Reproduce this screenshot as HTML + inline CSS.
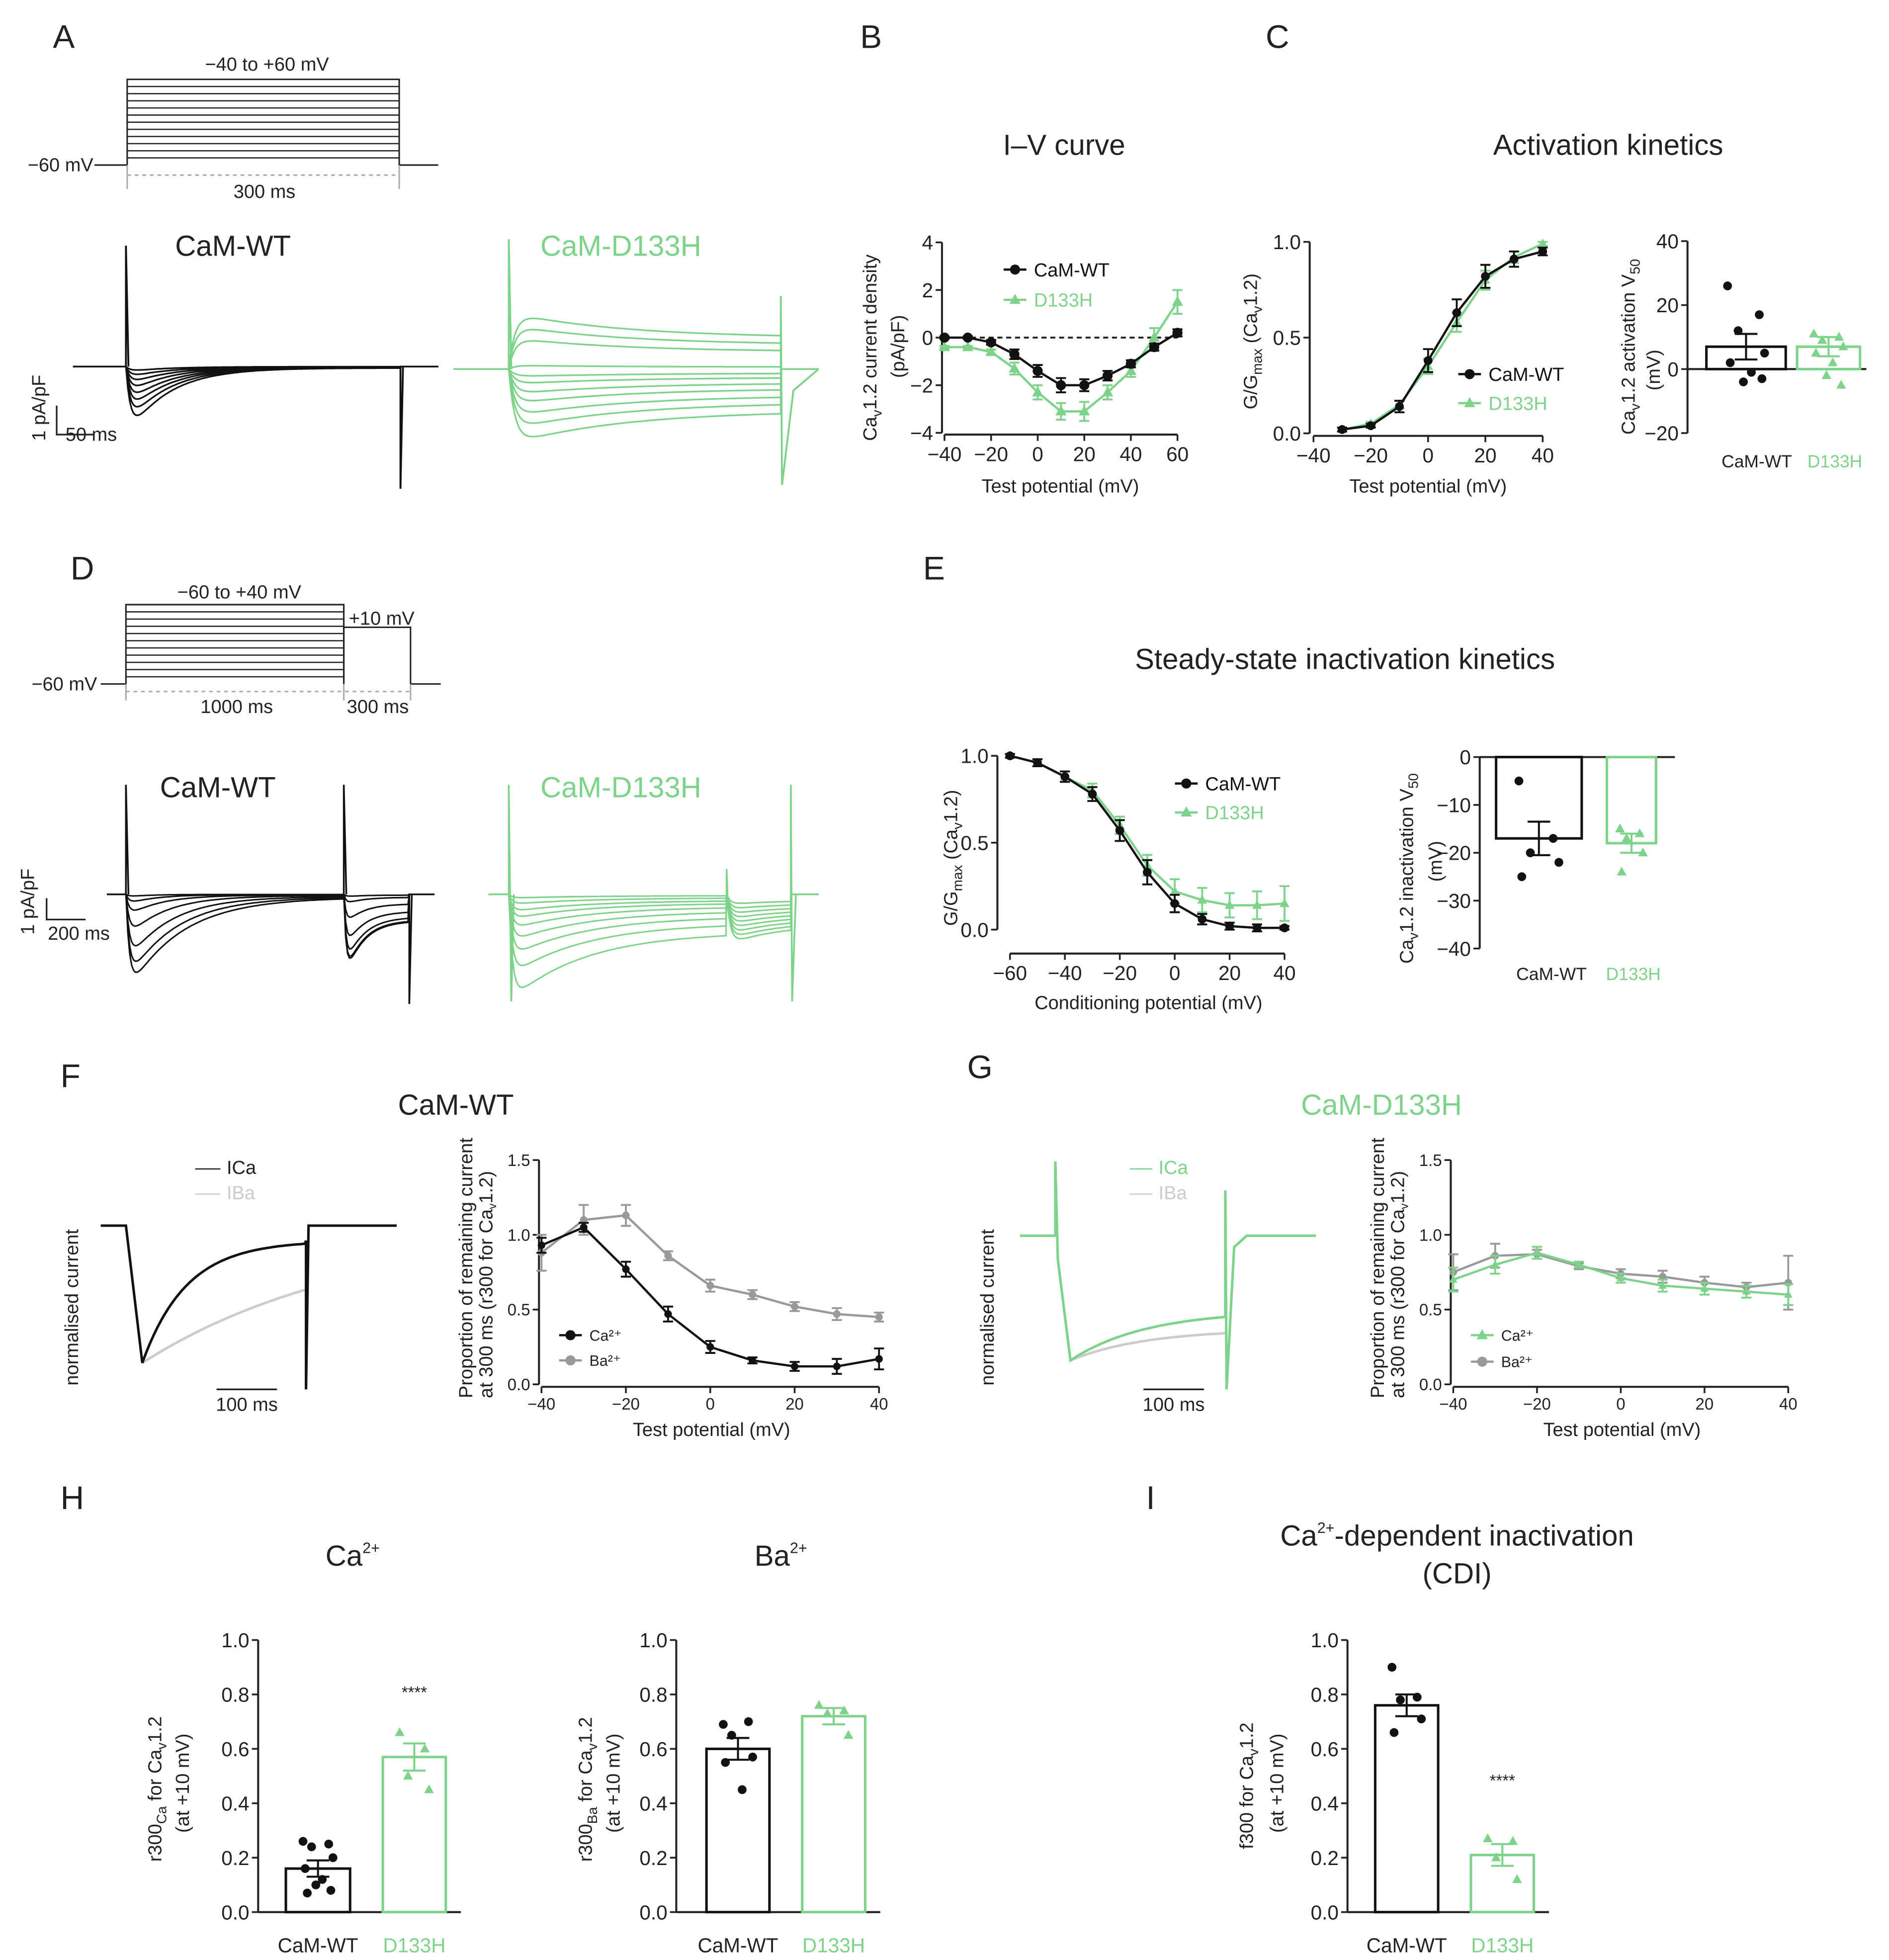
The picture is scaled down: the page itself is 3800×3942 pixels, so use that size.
<!DOCTYPE html>
<html><head><meta charset="utf-8">
<style>
html,body{margin:0;padding:0;background:#fff;}
svg{display:block;font-family:"Liberation Sans",Arial,sans-serif;}
.t{font-size:15px;fill:#222;}
.ti{font-size:23px;fill:#222;}
.pl{font-size:26px;fill:#222;}
.g{fill:#7ed38a;}
</style></head>
<body>
<svg id="fig" width="3800" height="3942" viewBox="0 0 1500 1556" xmlns="http://www.w3.org/2000/svg">
<rect width="1500" height="1556" fill="#fff"/>
<g>
<text class="pl" x="42" y="38">A</text><text class="pl" x="683" y="38">B</text><text class="pl" x="1005" y="38">C</text>
<text class="pl" x="56" y="460">D</text><text class="pl" x="733" y="460">E</text>
<text class="pl" x="48" y="863">F</text><text class="pl" x="768" y="856">G</text>
<text class="pl" x="48" y="1198">H</text><text class="pl" x="910" y="1198">I</text>
</g>
<g text-anchor="middle">
<text class="ti" x="845" y="123">I–V curve</text>
<text class="ti" x="1277" y="123">Activation kinetics</text>
<text class="ti" x="1068" y="531">Steady-state inactivation kinetics</text>
<text class="ti" x="362" y="885" font-size="20">CaM-WT</text>
<text class="ti g" x="1097" y="885" font-size="20">CaM-D133H</text>
<text class="ti" x="280" y="1243">Ca<tspan font-size="12" dy="-10">2+</tspan></text>
<text class="ti" x="620" y="1243">Ba<tspan font-size="12" dy="-10">2+</tspan></text>
<text class="ti" x="1157" y="1227">Ca<tspan font-size="12" dy="-10">2+</tspan><tspan dy="10">-dependent inactivation</tspan></text>
<text class="ti" x="1157" y="1257">(CDI)</text>
<text class="ti" x="185" y="203" font-size="19">CaM-WT</text>
<text class="ti g" x="493" y="203" font-size="19">CaM-D133H</text>
<text class="ti" x="173" y="633" font-size="19">CaM-WT</text>
<text class="ti g" x="493" y="633" font-size="19">CaM-D133H</text>
</g>
<g fill="none" stroke="#222" stroke-width="1.2">
<polyline points="75,131 101,131 101,63 317,63 317,131 348,131"/>
<line x1="101" y1="139" x2="317" y2="139" stroke="#aaa" stroke-dasharray="3,3"/>
<line x1="101" y1="131" x2="101" y2="150" stroke="#aaa"/><line x1="317" y1="131" x2="317" y2="150" stroke="#aaa"/>
</g>
<g id="protA" stroke="#222" stroke-width="1"></g>
<text class="t" x="212" y="56" text-anchor="middle">−40 to +60 mV</text>
<text class="t" x="22" y="136">−60 mV</text>
<text class="t" x="210" y="157" text-anchor="middle">300 ms</text>

<g fill="none" stroke="#222" stroke-width="1.2">
<polyline points="80,543 100,543 100,480 273,480 273,543"/>
<polyline points="273,498 326,498 326,543 350,543"/>
<line x1="273" y1="498" x2="273" y2="543"/>
<line x1="100" y1="549" x2="326" y2="549" stroke="#aaa" stroke-dasharray="3,3"/>
<line x1="100" y1="543" x2="100" y2="556" stroke="#aaa"/><line x1="273" y1="543" x2="273" y2="556" stroke="#aaa"/><line x1="326" y1="543" x2="326" y2="556" stroke="#aaa"/>
</g>
<g id="protD" stroke="#222" stroke-width="1"></g>
<text class="t" x="190" y="475" text-anchor="middle">−60 to +40 mV</text>
<text class="t" x="277" y="496">+10 mV</text>
<text class="t" x="25" y="548">−60 mV</text>
<text class="t" x="188" y="566" text-anchor="middle">1000 ms</text>
<text class="t" x="300" y="566" text-anchor="middle">300 ms</text>

<g fill="none" stroke="#222" stroke-width="1.3">
<polyline points="45,322 45,345 75,345"/>
<polyline points="37,713 37,730 68,730"/>
<line x1="172" y1="1103" x2="220" y2="1103"/>
<line x1="908" y1="1103" x2="956" y2="1103"/>
</g>
<g>
<text class="t" font-size="13" transform="translate(36,350) rotate(-90)">1 pA/pF</text>
<text class="t" font-size="14" x="52" y="350">50 ms</text>
<text class="t" font-size="13" transform="translate(27,742) rotate(-90)">1 pA/pF</text>
<text class="t" font-size="14" x="38" y="746">200 ms</text>
<text class="t" font-size="14" x="196" y="1120" text-anchor="middle">100 ms</text>
<text class="t" font-size="14" x="932" y="1120" text-anchor="middle">100 ms</text>
<text class="t" font-size="18" transform="translate(62,1100) rotate(-90)">normalised current</text>
<text class="t" font-size="18" transform="translate(789,1100) rotate(-90)">normalised current</text>
</g>
<g>
<line x1="155" y1="928" x2="175" y2="928" stroke="#222"/><text class="t" font-size="11" x="180" y="932">ICa</text>
<line x1="155" y1="948" x2="175" y2="948" stroke="#ccc"/><text class="t" font-size="11" x="180" y="952" style="fill:#ccc">IBa</text>
</g>
<g>
<line x1="897" y1="928" x2="915" y2="928" stroke="#7ed38a"/><text class="t g" font-size="11" x="920" y="932">ICa</text>
<line x1="897" y1="948" x2="915" y2="948" stroke="#ccc"/><text class="t" font-size="11" x="920" y="952" style="fill:#ccc">IBa</text>
</g>
<g font-size="16">
<text class="t" font-size="16" transform="translate(696,350) rotate(-90)">Ca<tspan font-size="11" dy="4">v</tspan><tspan dy="-4">1.2 current density</tspan></text>
<text class="t" font-size="16" transform="translate(718,300) rotate(-90)">(pA/pF)</text>
<text class="t" font-size="16" x="842" y="391" text-anchor="middle">Test potential (mV)</text>
<text class="t" font-size="16" transform="translate(998,325) rotate(-90)">G/G<tspan font-size="11" dy="4">max</tspan><tspan dy="-4"> (Ca</tspan><tspan font-size="11" dy="4">v</tspan><tspan dy="-4">1.2)</tspan></text>
<text class="t" font-size="16" x="1134" y="391" text-anchor="middle">Test potential (mV)</text>
<text class="t" font-size="16" transform="translate(1298,345) rotate(-90)">Ca<tspan font-size="11" dy="4">v</tspan><tspan dy="-4">1.2 activation V</tspan><tspan font-size="11" dy="4">50</tspan></text>
<text class="t" font-size="16" transform="translate(1318,310) rotate(-90)">(mV)</text>
<text class="t" font-size="16" transform="translate(760,735) rotate(-90)">G/G<tspan font-size="11" dy="4">max</tspan><tspan dy="-4"> (Ca</tspan><tspan font-size="11" dy="4">v</tspan><tspan dy="-4">1.2)</tspan></text>
<text class="t" font-size="16" x="912" y="801" text-anchor="middle">Conditioning potential (mV)</text>
<text class="t" font-size="16" transform="translate(1122,765) rotate(-90)">Ca<tspan font-size="11" dy="4">v</tspan><tspan dy="-4">1.2 inactivation V</tspan><tspan font-size="11" dy="4">50</tspan></text>
<text class="t" font-size="16" transform="translate(1145,700) rotate(-90)">(mV)</text>
<text class="t" font-size="12" transform="translate(375,1110) rotate(-90)">Proportion of remaining current</text>
<text class="t" font-size="12" transform="translate(391,1110) rotate(-90)">at 300 ms (r300 for Ca<tspan font-size="9" dy="3">v</tspan><tspan dy="-3">1.2)</tspan></text>
<text class="t" font-size="13" x="565" y="1140" text-anchor="middle">Test potential (mV)</text>
<text class="t" font-size="12" transform="translate(1099,1110) rotate(-90)">Proportion of remaining current</text>
<text class="t" font-size="12" transform="translate(1115,1110) rotate(-90)">at 300 ms (r300 for Ca<tspan font-size="9" dy="3">v</tspan><tspan dy="-3">1.2)</tspan></text>
<text class="t" font-size="13" x="1288" y="1140" text-anchor="middle">Test potential (mV)</text>
<text class="t" font-size="16" transform="translate(128,1478) rotate(-90)">r300<tspan font-size="11" dy="4">Ca</tspan><tspan dy="-4"> for Ca</tspan><tspan font-size="11" dy="4">v</tspan><tspan dy="-4">1.2</tspan></text>
<text class="t" font-size="16" transform="translate(150,1455) rotate(-90)">(at +10 mV)</text>
<text class="t" font-size="16" transform="translate(470,1478) rotate(-90)">r300<tspan font-size="11" dy="4">Ba</tspan><tspan dy="-4"> for Ca</tspan><tspan font-size="11" dy="4">v</tspan><tspan dy="-4">1.2</tspan></text>
<text class="t" font-size="16" transform="translate(492,1455) rotate(-90)">(at +10 mV)</text>
<text class="t" font-size="16" transform="translate(995,1468) rotate(-90)">f300 for Ca<tspan font-size="11" dy="4">v</tspan><tspan dy="-4">1.2</tspan></text>
<text class="t" font-size="16" transform="translate(1019,1455) rotate(-90)">(at +10 mV)</text>
</g>
<g id="plots"></g>
</svg>
<script>
const ivV = [-40,-30,-20,-10,0,10,20,30,40,50,60];
const ivWT = [0,0,-0.2,-0.7,-1.4,-2.0,-2.0,-1.6,-1.1,-0.4,0.2];
const ivWTerr = [0.05,0.05,0.1,0.2,0.25,0.3,0.25,0.2,0.15,0.15,0.15];
const ivMut = [-0.4,-0.4,-0.6,-1.3,-2.3,-3.1,-3.1,-2.3,-1.4,0,1.5];
const ivMuterr = [0.05,0.05,0.1,0.25,0.3,0.35,0.4,0.3,0.25,0.4,0.5];
const actV = [-30,-20,-10,0,10,20,30,40];
const actWT = [0.02,0.04,0.14,0.38,0.63,0.82,0.91,0.95];
const actWTerr = [0.01,0.01,0.03,0.06,0.07,0.06,0.04,0.02];
const actMut = [0.02,0.05,0.15,0.35,0.58,0.80,0.92,0.99];
const actMuterr = [0.01,0.01,0.02,0.04,0.05,0.05,0.03,0.01];
const actV50WT = [26,17,12,5,2,-1,-4,-3];
const actV50Mut = [11,10,9,7,5,2,-2,-5];
const actV50mean = [7,7];
const actV50err = [4,3];
const inaV = [-60,-50,-40,-30,-20,-10,0,10,20,30,40];
const inaWT = [1.0,0.96,0.88,0.78,0.57,0.33,0.15,0.06,0.02,0.01,0.01];
const inaWTerr = [0.01,0.02,0.03,0.04,0.06,0.07,0.05,0.03,0.02,0.02,0.01];
const inaMut = [1.0,0.96,0.88,0.8,0.6,0.37,0.22,0.17,0.14,0.14,0.15];
const inaMuterr = [0.01,0.02,0.03,0.04,0.05,0.06,0.07,0.07,0.07,0.08,0.1];
const inaV50WT = [-5,-17,-20,-22,-25];
const inaV50Mut = [-15,-16,-17,-20,-24];
const inaV50mean = [-17,-18];
const inaV50err = [3.5,2];
const rV = [-40,-30,-20,-10,0,10,20,30,40];
const rWTca = [0.93,1.05,0.77,0.47,0.25,0.16,0.12,0.12,0.17];
const rWTcaErr = [0.05,0.03,0.05,0.05,0.04,0.02,0.03,0.05,0.07];
const rWTba = [0.88,1.10,1.13,0.86,0.66,0.60,0.52,0.47,0.45];
const rWTbaErr = [0.12,0.1,0.07,0.03,0.04,0.03,0.03,0.04,0.03];
const rMutCa = [0.70,0.80,0.88,0.80,0.71,0.66,0.64,0.62,0.60];
const rMutCaErr = [0.08,0.06,0.04,0.02,0.03,0.04,0.04,0.04,0.07];
const rMutBa = [0.75,0.86,0.87,0.79,0.74,0.72,0.68,0.65,0.68];
const rMutBaErr = [0.12,0.08,0.03,0.02,0.03,0.04,0.04,0.03,0.18];
const hCaWT = [0.26,0.25,0.24,0.2,0.16,0.12,0.1,0.08,0.07];
const hCaMut = [0.66,0.6,0.5,0.45];
const hCaMean = [0.16,0.57];
const hCaErr = [0.03,0.05];
const hBaWT = [0.69,0.70,0.65,0.57,0.55,0.45];
const hBaMut = [0.76,0.74,0.73,0.65];
const hBaMean = [0.60,0.72];
const hBaErr = [0.04,0.03];
const cdiWT = [0.90,0.79,0.78,0.71,0.66];
const cdiMut = [0.27,0.26,0.20,0.12];
const cdiMean = [0.76,0.21];
const cdiErr = [0.04,0.04];
const trAwt = [4,9,15,22,30,38,47,57];
const trAmut = [-45,-35,-25,-3,6,12,20,28,38,48,60];
const trDwt1 = [2,8,18,35,55,70,80];
const trDwt2 = [70,68,60,45,25,8,2];
const trDmut1 = [3,8,14,20,28,38,50,65,85];
const trDmut2 = [40,36,32,28,24,20,16,12,8];

const NS='http://www.w3.org/2000/svg';
const root=document.getElementById('plots');
const GREEN='#7ed38a';
function el(tag,attrs,name,parent){
  const e=document.createElementNS(NS,tag);
  for(const k in attrs) e.setAttribute(k,attrs[k]);
  
  
  (parent||root).appendChild(e);
  return e;
}
function txt(x,y,s,size,anchor,name,fill){
  const t=el('text',{x:x,y:y,'font-size':size,'text-anchor':anchor,fill:fill||'#222'},name);
  t.textContent=s; return t;
}
function xAxis(sx,ticks,y,size,name){
  el('line',{x1:sx(ticks[0]),x2:sx(ticks[ticks.length-1]),y1:y,y2:y,stroke:'#222','stroke-width':1.6},name+'-line');
  ticks.forEach(v=>{
    el('line',{x1:sx(v),x2:sx(v),y1:y,y2:y+5,stroke:'#222','stroke-width':1.4},name+'-tick');
    txt(sx(v),y+5+size,(v<0?'−'+(-v):''+v),size,'middle',name+'-label');
  });
}
function yAxis(sy,ticks,x,size,name,fmt){
  el('line',{x1:x,x2:x,y1:sy(ticks[0]),y2:sy(ticks[ticks.length-1]),stroke:'#222','stroke-width':1.6},name+'-line');
  ticks.forEach(v=>{
    el('line',{x1:x-5,x2:x,y1:sy(v),y2:sy(v),stroke:'#222','stroke-width':1.4},name+'-tick');
    const s=fmt?fmt(v):(v<0?'−'+(-v):''+v);
    txt(x-7,sy(v)+size*0.36,s,size,'end',name+'-label');
  });
}
function marker(x,y,shape,color,r,name){
  if(shape==='c') el('circle',{cx:x,cy:y,r:r,fill:color},name);
  else el('path',{d:`M${x},${y-r*1.2}L${x+r*1.1},${y+r*0.8}L${x-r*1.1},${y+r*0.8}Z`,fill:color},name);
}
function series(sx,sy,xs,ys,es,color,shape,r,name){
  el('polyline',{points:xs.map((v,i)=>sx(v)+','+sy(ys[i])).join(' '),fill:'none',stroke:color,'stroke-width':1.8},name+'-line');
  xs.forEach((v,i)=>{
    const x=sx(v),y1=sy(ys[i]-es[i]),y2=sy(ys[i]+es[i]);
    el('path',{d:`M${x},${y1}V${y2}M${x-4},${y1}H${x+4}M${x-4},${y2}H${x+4}`,stroke:color,'stroke-width':1.5,fill:'none'},name+'-errorbar');
    marker(x,sy(ys[i]),shape,color,r,name+'-point');
  });
}
const jit=[-14,10,-6,14,-12,4,-2,12,-10];
function bar(x0,x1,mean,err,pts,sy,base,color,shape,name){
  const yb=sy(base),ym=sy(mean);
  el('rect',{x:x0,y:Math.min(yb,ym),width:x1-x0,height:Math.abs(yb-ym),fill:'none',stroke:color,'stroke-width':2},name+'-bar');
  const cx=(x0+x1)/2, ye1=sy(mean+err), ye2=sy(mean-err);
  el('path',{d:`M${cx},${ye1}V${ye2}M${cx-9},${ye1}H${cx+9}M${cx-9},${ye2}H${cx+9}`,stroke:color,'stroke-width':1.6,fill:'none'},name+'-errorbar');
  pts.forEach((v,i)=>marker(cx+jit[i%jit.length]*(x1-x0)/60,sy(v),shape,color,3.5,name+'-dot'));
}
function legend(x,y,label,color,shape,size,name,tcolor){
  el('line',{x1:x,x2:x+18,y1:y,y2:y,stroke:color,'stroke-width':1.8},name+'-line');
  marker(x+9,y,shape,color,4,name+'-marker');
  txt(x+24,y+size*0.36,label,size,'start',name+'-label',tcolor||color);
}
const sxB=v=>750+(v+40)*1.85, syB=v=>268-v*18.9;
yAxis(syB,[-4,-2,0,2,4],748,16,'iv-y-axis');
xAxis(sxB,[-40,-20,0,20,40,60],345,16,'iv-x-axis');
el('line',{x1:750,x2:935,y1:syB(0),y2:syB(0),stroke:'#222','stroke-dasharray':'4,3','stroke-width':1.5},'iv-zero-line');
series(sxB,syB,ivV,ivMut,ivMuterr,GREEN,'t',4,'iv-d133h');
series(sxB,syB,ivV,ivWT,ivWTerr,'#111','c',4,'iv-wt');
legend(797,214,'CaM-WT','#111','c',15,'iv-legend-wt');
legend(797,238,'D133H',GREEN,'t',15,'iv-legend-d133h');
const sxC=v=>1043+(v+40)*2.275, syC=v=>344-v*152;
yAxis(syC,[0,0.5,1.0],1040,16,'act-y-axis',v=>v.toFixed(1));
xAxis(sxC,[-40,-20,0,20,40],346,16,'act-x-axis');
series(sxC,syC,actV,actMut,actMuterr,GREEN,'t',3.5,'act-d133h');
series(sxC,syC,actV,actWT,actWTerr,'#111','c',3.5,'act-wt');
legend(1158,297,'CaM-WT','#111','c',15,'act-legend-wt');
legend(1158,320,'D133H',GREEN,'t',15,'act-legend-d133h');
const syCb=v=>293-v*2.54;
yAxis(syCb,[-20,0,20,40],1340,16,'actv50-y-axis');
el('line',{x1:1340,x2:1482,y1:syCb(0),y2:syCb(0),stroke:'#222','stroke-width':1.6},'actv50-baseline');
bar(1355,1418,actV50mean[0],actV50err[0],actV50WT,syCb,0,'#111','c','actv50-wt');
bar(1427,1477,actV50mean[1],actV50err[1],actV50Mut,syCb,0,GREEN,'t','actv50-d133h');
txt(1395,371,'CaM-WT',14,'middle','actv50-label-wt');
txt(1457,371,'D133H',14,'middle','actv50-label-d133h',GREEN);
const sxE=v=>802+(v+60)*2.18, syE=v=>738-v*138;
yAxis(syE,[0,0.5,1.0],792,16,'ina-y-axis',v=>v.toFixed(1));
xAxis(sxE,[-60,-40,-20,0,20,40],757,16,'ina-x-axis');
series(sxE,syE,inaV,inaMut,inaMuterr,GREEN,'t',3.5,'ina-d133h');
series(sxE,syE,inaV,inaWT,inaWTerr,'#111','c',3.5,'ina-wt');
legend(933,622,'CaM-WT','#111','c',15,'ina-legend-wt');
legend(933,645,'D133H',GREEN,'t',15,'ina-legend-d133h');
const syEb=v=>601-v*3.8;
yAxis(syEb,[-40,-30,-20,-10,0],1175,16,'inav50-y-axis');
el('line',{x1:1175,x2:1330,y1:601,y2:601,stroke:'#222','stroke-width':1.6},'inav50-baseline');
bar(1188,1256,inaV50mean[0],inaV50err[0],inaV50WT,syEb,0,'#111','c','inav50-wt');
bar(1276,1315,inaV50mean[1],inaV50err[1],inaV50Mut,syEb,0,GREEN,'t','inav50-d133h');
txt(1232,778,'CaM-WT',14,'middle','inav50-label-wt');
txt(1297,778,'D133H',14,'middle','inav50-label-d133h',GREEN);
const syF=v=>1099-v*118.7;
const sxF=v=>430+(v+40)*3.35, sxG=v=>1154+(v+40)*3.325;
yAxis(syF,[0,0.5,1.0,1.5],428,13,'rf-y-axis',v=>v.toFixed(1));
xAxis(sxF,[-40,-20,0,20,40],1101,13,'rf-x-axis');
series(sxF,syF,rV,rWTba,rWTbaErr,'#999','c',3,'rf-ba');
series(sxF,syF,rV,rWTca,rWTcaErr,'#111','c',3,'rf-ca');
legend(444,1060,'Ca²⁺','#111','c',12,'rf-legend-ca','#222');
legend(444,1080,'Ba²⁺','#999','c',12,'rf-legend-ba','#222');
yAxis(syF,[0,0.5,1.0,1.5],1152,13,'rg-y-axis',v=>v.toFixed(1));
xAxis(sxG,[-40,-20,0,20,40],1101,13,'rg-x-axis');
series(sxG,syF,rV,rMutBa,rMutBaErr,'#999','c',3,'rg-ba');
series(sxG,syF,rV,rMutCa,rMutCaErr,GREEN,'t',3,'rg-ca');
legend(1168,1060,'Ca²⁺',GREEN,'t',12,'rg-legend-ca','#222');
legend(1168,1081,'Ba²⁺','#999','c',12,'rg-legend-ba','#222');
const syH=v=>1518-v*216;
const tk=[0,0.2,0.4,0.6,0.8,1.0];
function barPanel(ax,xs,mean,err,wt,mut,name){
  yAxis(syH,tk,ax,16,name+'-y-axis',v=>v.toFixed(1));
  el('line',{x1:ax,x2:xs[3]+12,y1:1518,y2:1518,stroke:'#222','stroke-width':1.6},name+'-baseline');
  bar(xs[0],xs[1],mean[0],err[0],wt,syH,0,'#111','c',name+'-wt');
  bar(xs[2],xs[3],mean[1],err[1],mut,syH,0,GREEN,'t',name+'-d133h');
  txt((xs[0]+xs[1])/2,1550,'CaM-WT',16,'middle',name+'-label-wt');
  txt((xs[2]+xs[3])/2,1550,'D133H',16,'middle',name+'-label-d133h',GREEN);
}
barPanel(205,[227,278,304,354],hCaMean,hCaErr,hCaWT,hCaMut,'h-ca');
txt(329,1348,'****',13,'middle','h-ca-significance');
barPanel(537,[561,611,637,687],hBaMean,hBaErr,hBaWT,hBaMut,'h-ba');
barPanel(1070,[1092,1142,1168,1218],cdiMean,cdiErr,cdiWT,cdiMut,'i-cdi');
txt(1193,1418,'****',13,'middle','i-significance');
const pA=document.getElementById('protA');
for(let i=1;i<12;i++) el('line',{x1:101,x2:317,y1:63+i*(68/12),y2:63+i*(68/12)},'protocol-a-step',pA);
const pD=document.getElementById('protD');
for(let i=1;i<11;i++) el('line',{x1:100,x2:273,y1:480+i*(63/11),y2:480+i*(63/11)},'protocol-d-step',pD);
function path(pts,color,w,name){ el('path',{d:'M'+pts.map(p=>p[0].toFixed(1)+','+p[1].toFixed(1)).join('L'),fill:'none',stroke:color,'stroke-width':w||1.3},name); }
function pulse(x0,x1,base,A,tr,td,floor){
  const p=[];
  for(let x=x0;x<=x1;x+=1.5){const t=x-x0;p.push([x,base+A*(1-Math.exp(-t/tr))*(floor+(1-floor)*Math.exp(-t/td))]);}
  return p;
}
trAwt.forEach(A=>{const p=[[58,291],[100,291]].concat(pulse(100,318,291,A,4,32,0.02)).concat([[318,291],[348,291]]);path(p,'#111',1.3,'trace-a-wt');});
path([[100,291],[100,195],[102,291]],'#111',1.5,'trace-a-wt-spike');
path([[318,291],[318,388],[320,291]],'#111',1.5,'trace-a-wt-tail');
trAmut.forEach(A=>{const p=[[360,293],[404,293]].concat(pulse(404,620,293,A,5,90,0.55)).concat([[620,293],[650,293]]);path(p,GREEN,1.3,'trace-a-d133h');});
path([[404,293],[404,190],[406,293]],GREEN,1.5,'trace-a-d133h-spike');
path([[620,293],[620,235],[621,385],[630,310],[650,293]],GREEN,1.5,'trace-a-d133h-tail');
trDwt1.forEach((A,i)=>{const p=[[85,710],[100,710]].concat(pulse(100,273,710,A,3,18+i*4,0.03)).concat(pulse(273,325,710,trDwt2[i],2,14,0.3)).concat([[325,710],[345,710]]);path(p,'#111',1.2,'trace-d-wt');});
path([[100,710],[100,623],[102,710]],'#111',1.4,'trace-d-wt-spike1');
path([[273,710],[273,623],[275,710]],'#111',1.4,'trace-d-wt-spike2');
path([[325,710],[325,797],[327,710]],'#111',1.4,'trace-d-wt-tail');
trDmut1.forEach((A,i)=>{const p=[[388,710],[404,710]].concat(pulse(404,577,710,A,3,60,0.35)).concat(pulse(577,628,710,trDmut2[i],3,40,0.6)).concat([[628,710],[650,710]]);path(p,GREEN,1.2,'trace-d-d133h');});
path([[404,710],[404,623],[406,795],[408,710]],GREEN,1.4,'trace-d-d133h-spike1');
path([[577,710],[577,690],[578,720]],GREEN,1.4,'trace-d-d133h-spike2');
path([[628,710],[628,623],[629,795],[632,710],[650,710]],GREEN,1.4,'trace-d-d133h-tail');
(function(){
  const ba=[];for(let x=113;x<=243;x+=1.5) ba.push([x,973+109*Math.exp(-(x-113)/170)]);
  path(ba,'#ccc',2,'trace-f-iba');
  const ca=[[80,973],[100,973],[113,1082]];for(let x=113;x<=243;x+=1.5) ca.push([x,985+97*Math.exp(-(x-113)/35)]);
  ca.push([243,985],[243,1103],[245,973],[315,973]);
  path(ca,'#111',2,'trace-f-ica');
  const g1=[];for(let x=850;x<=973;x+=1.5) g1.push([x,981+99*(0.75+0.25*Math.exp(-(x-850)/60))]);
  path(g1,'#ccc',2,'trace-g-iba');
  const g=[[810,981],[838,981],[838,922],[840,1000],[850,1080]];for(let x=850;x<=973;x+=1.5) g.push([x,981+99*(0.6+0.4*Math.exp(-(x-850)/60))]);
  g.push([973,1040],[973,945],[974,1103],[980,990],[990,981],[1045,981]);
  path(g,GREEN,2,'trace-g-ica');
})();
</script>
</body></html>
